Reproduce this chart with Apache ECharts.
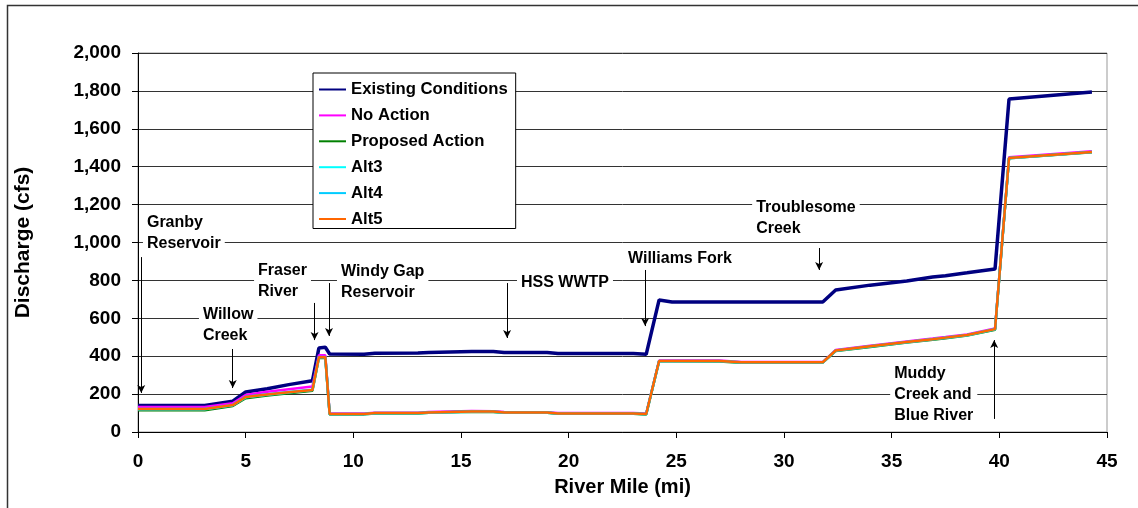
<!DOCTYPE html>
<html>
<head>
<meta charset="utf-8">
<script src="https://cdn.jsdelivr.net/npm/echarts@6/dist/echarts.min.js"></script>
<style>
  html, body { margin: 0; padding: 0; background: #fff; }
  #chart { width: 1138px; height: 508px; }
</style>
</head>
<body>
<div id="chart"></div>
<script>
// river mile of each point
const miles = [0, 3.1, 4.4, 5.0, 6.0, 7.0, 8.1, 8.4, 8.7, 8.9,
  10.5, 11.0, 13.0, 13.5, 15.5, 16.5, 17.0, 19.0, 19.5, 23.0,
  23.6, 24.2, 24.8, 27.0, 28.0, 31.8, 32.4, 34.0, 35.7, 36.9,
  37.5, 38.5, 39.8, 40.45, 44.3];

// discharge (cfs)
const existing = [140, 140, 163, 211, 228, 250, 270, 443, 447, 412,
  410, 415, 417, 420, 425, 425, 420, 420, 414, 414,
  410, 697, 686, 686, 686, 686, 749, 775, 797, 818,
  825, 840, 860, 1757, 1794];
const noAction = [132, 132, 152, 195, 212, 226, 240, 405, 405, 98,
  98, 102, 102, 105, 111, 110, 105, 104, 100, 100,
  97, 377, 377, 377, 370, 369, 433, 455, 478, 493,
  501, 515, 546, 1450, 1482];
const proposed = [115, 115, 137, 178, 193, 205, 218, 390, 390, 93,
  93, 98, 98, 101, 107, 106, 101, 101, 96, 96,
  93, 373, 373, 372, 366, 366, 427, 449, 472, 487,
  495, 509, 540, 1444, 1476];
const alt3 = [120, 120, 141, 183, 197, 209, 221, 394, 394, 94,
  94, 99, 99, 102, 107, 107, 102, 102, 97, 97,
  94, 374, 374, 374, 367, 367, 429, 451, 474, 489,
  497, 511, 542, 1445, 1477];
const alt4 = [122, 122, 143, 186, 199, 211, 223, 396, 396, 95,
  95, 100, 100, 103, 108, 108, 103, 103, 98, 98,
  95, 375, 375, 375, 368, 368, 430, 452, 475, 490,
  498, 512, 543, 1446, 1478];
const alt5 = [121, 121, 142, 185, 198, 210, 222, 395, 395, 95,
  95, 100, 100, 103, 108, 108, 103, 103, 98, 98,
  95, 375, 375, 375, 368, 368, 430, 452, 475, 490,
  498, 512, 543, 1446, 1478];

// annotations: label text and anchor (mile, cfs), arrow (mile, from, to)
const noteText = ["Granby\nReservoir", "Willow\nCreek", "Fraser\nRiver", "Windy Gap\nReservoir",
  "HSS WWTP", "Williams Fork", "Troublesome\nCreek", "Muddy\nCreek and\nBlue River"];
const noteX = [0.23, 2.83, 5.39, 9.24, 17.6, 22.57, 28.52, 34.93];
const noteY = [1050, 565, 797, 789, 786, 913, 1127, 200];
const arrowX = [0.15, 4.4, 8.2, 8.87, 17.14, 23.55, 31.63, 39.76];
const arrowFrom = [923, 438, 681, 786, 786, 855, 971, 69];
const arrowTo = [206, 232, 485, 507, 496, 559, 855, 485];

const FONT = 'Arial, "Liberation Sans", sans-serif';

const chart = echarts.init(document.getElementById("chart"));

function line(name, values, color, width) {
  return {
    name: name,
    type: "line",
    symbol: "none",
    data: miles.map((m, i) => [m, values[i]]),
    lineStyle: { color: color, width: width },
    itemStyle: { color: color },
    z: 3,
  };
}

const option = {
  animation: false,
  backgroundColor: "#fff",
  textStyle: { fontFamily: FONT },
  graphic: [{
    type: "rect",
    shape: { x: 7.5, y: 5.5, width: 1200, height: 600 },
    style: { fill: "none", stroke: "#333", lineWidth: 1.5 },
    silent: true,
  }],
  grid: {
    left: 138, right: 31, top: 53, bottom: 76,
    show: true, borderColor: "#999", borderWidth: 1,
  },
  legend: {
    orient: "vertical",
    left: 313, top: 73,
    data: ["Existing Conditions", "No Action", "Proposed Action", "Alt3", "Alt4", "Alt5"],
    backgroundColor: "#fff",
    borderColor: "#000",
    borderWidth: 1,
    borderRadius: 0,
    padding: [8, 8, 1, 5],
    itemWidth: 27,
    itemHeight: 14,
    itemGap: 8.9,
    itemStyle: { opacity: 0 },
    textStyle: { fontFamily: FONT, fontSize: 16.7, fontWeight: "bold", color: "#000", lineHeight: 16 },
  },
  xAxis: {
    type: "value",
    min: 0, max: 45, interval: 5,
    name: "River Mile (mi)",
    nameLocation: "middle",
    nameGap: 45,
    nameTextStyle: { fontFamily: FONT, fontSize: 20, fontWeight: "bold", color: "#000" },
    axisLine: { lineStyle: { color: "#000", width: 1 } },
    axisTick: { length: 6, lineStyle: { color: "#000" } },
    axisLabel: { fontFamily: FONT, fontSize: 19, fontWeight: "bold", color: "#000", margin: 20 },
    splitLine: { show: false },
  },
  yAxis: {
    type: "value",
    min: 0, max: 2000, interval: 200,
    name: "Discharge (cfs)",
    nameLocation: "middle",
    nameGap: 104,
    nameTextStyle: { fontFamily: FONT, fontSize: 21, fontWeight: "bold", color: "#000" },
    axisLine: { show: true, lineStyle: { color: "#000", width: 1 } },
    axisTick: { show: true, length: 6, lineStyle: { color: "#000" } },
    axisLabel: {
      fontFamily: FONT, fontSize: 19, fontWeight: "bold", color: "#000", margin: 17,
      formatter: (v) => v.toLocaleString("en-US"),
    },
    splitLine: { lineStyle: { color: "#333", width: 1 } },
  },
  series: [
    {
      name: "notes",
      type: "custom",
      z: 2,
      silent: true,
      data: noteX.map((x, i) => [x, noteY[i], i]),
      renderItem: (params, api) => {
        const p = api.coord([api.value(0), api.value(1)]);
        return {
          type: "text",
          x: p[0],
          y: p[1],
          style: {
            text: noteText[api.value(2)],
            fill: "#000",
            font: 'bold 16px Arial, "Liberation Sans", sans-serif',
            lineHeight: 21,
            align: "left",
            verticalAlign: "middle",
            backgroundColor: "#fff",
            padding: [1, 4],
          },
        };
      },
      markLine: {
        silent: true,
        symbol: ["none", "arrow"],
        symbolSize: [6, 8],
        label: { show: false },
        lineStyle: { color: "#000", width: 1, type: "solid", opacity: 1 },
        data: arrowX.map((x, i) => [{ coord: [x, arrowFrom[i]] }, { coord: [x, arrowTo[i]] }]),
      },
    },
    line("Existing Conditions", existing, "#000080", 3.5),
    line("No Action", noAction, "#ff00ff", 2.5),
    line("Proposed Action", proposed, "#008000", 2.5),
    line("Alt3", alt3, "#00ffff", 2.5),
    line("Alt4", alt4, "#00ccff", 2.5),
    line("Alt5", alt5, "#ff6600", 2.5),
  ],
};

chart.setOption(option);
</script>
</body>
</html>
